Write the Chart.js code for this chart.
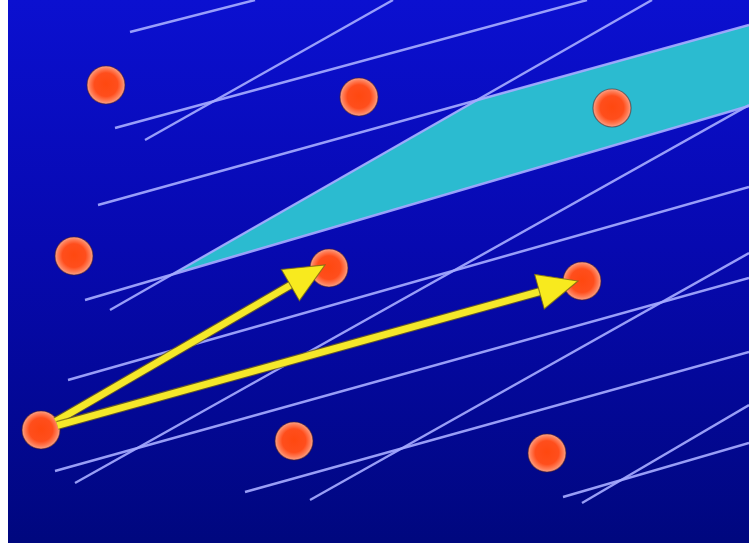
<!DOCTYPE html>
<html>
<head>
<meta charset="utf-8">
<script src="https://cdn.jsdelivr.net/npm/chart.js@4.4.1/dist/chart.umd.min.js"></script>
<style>
  html, body { margin: 0; padding: 0; background: #ffffff; }
  #wrap { width: 749px; height: 545px; position: relative; }
</style>
</head>
<body>
<div id="wrap"><canvas id="c" width="749" height="545"></canvas></div>
<script>
// ---- data (picture coordinates, y grows downward) ----
const latticeX = [106, 359, 612, 74, 329, 582, 41, 294, 547];
const latticeY = [85, 97, 108, 256, 268, 281, 430, 441, 453];

// shallow family of lines: [x1, y1, x2, y2]
const shallowLines = [
  [130, 32, 255, 0],
  [115, 128, 587, 0],
  [98, 205, 749, 25],
  [85, 300, 749, 106],
  [68, 380, 749, 187],
  [55, 471, 749, 278],
  [245, 492, 749, 352],
  [563, 497, 749, 443]
];
// steep family of lines: [x1, y1, x2, y2]
const steepLines = [
  [145, 140, 393, 0],
  [110, 310, 652, 0],
  [75, 483, 749, 105],
  [310, 500, 749, 253],
  [582, 503, 749, 405]
];

// highlighted region (cyan)
const regionX = [172, 476, 749, 749, 172];
const regionY = [274, 100, 25, 106, 274];

// arrows: from lattice point to lattice point
const arrowFromX = [41, 41];
const arrowFromY = [430, 430];
const arrowToX = [325, 578];
const arrowToY = [265, 281];

// ---- styling helpers ----
function makeDot(r) {
  const s = Math.ceil(r * 2 + 4);
  const c = document.createElement('canvas');
  c.width = s; c.height = s;
  const g = c.getContext('2d');
  const m = s / 2;
  const grad = g.createRadialGradient(m, m - 1, 0, m, m, r);
  grad.addColorStop(0, '#ff4810');
  grad.addColorStop(0.62, '#ff4e1c');
  grad.addColorStop(0.86, '#ff7e58');
  grad.addColorStop(1, '#f8a48c');
  g.beginPath();
  g.arc(m, m, r, 0, Math.PI * 2);
  g.fillStyle = grad;
  g.fill();
  g.lineWidth = 1.2;
  g.strokeStyle = 'rgba(80,30,30,0.55)';
  g.stroke();
  return c;
}
const dotImg = makeDot(19);

const lineColor = 'rgba(165,170,255,0.92)';

const datasets = [];
datasets.push({
  label: 'points',
  data: latticeX.map((x, i) => ({ x: x, y: latticeY[i] })),
  pointStyle: dotImg,
  pointRadius: 19,
  showLine: false,
  order: 5,
  clip: false
});
function addLine(seg, name) {
  datasets.push({
    label: name,
    data: [{ x: seg[0], y: seg[1] }, { x: seg[2], y: seg[3] }],
    showLine: true,
    borderColor: lineColor,
    borderWidth: 2.4,
    pointRadius: 0,
    fill: false,
    order: 20,
    clip: false
  });
}
shallowLines.forEach((s, i) => addLine(s, 'a' + i));
steepLines.forEach((s, i) => addLine(s, 'b' + i));
datasets.push({
  label: 'region',
  data: regionX.map((x, i) => ({ x: x, y: regionY[i] })),
  showLine: true,
  borderWidth: 0,
  borderColor: 'rgba(0,0,0,0)',
  backgroundColor: '#2bbbd0',
  fill: 'shape',
  pointRadius: 0,
  order: 40,
  clip: false
});

const bgPlugin = {
  id: 'bg',
  beforeDraw(chart) {
    const ctx = chart.ctx;
    const w = chart.width, h = chart.height;
    ctx.save();
    ctx.fillStyle = '#ffffff';
    ctx.fillRect(0, 0, w, h);
    const g = ctx.createLinearGradient(0, 0, 0, h);
    g.addColorStop(0, '#0b10d0');
    g.addColorStop(0.45, '#0709b0');
    g.addColorStop(1, '#00077e');
    ctx.fillStyle = g;
    ctx.fillRect(8, 0, w - 8, h - 2);
    ctx.restore();
  }
};

const arrowPlugin = {
  id: 'arrows',
  afterDatasetsDraw(chart) {
    const ctx = chart.ctx;
    const xs = chart.scales.x, ys = chart.scales.y;
    ctx.save();
    for (let i = 0; i < arrowFromX.length; i++) {
      const x0 = xs.getPixelForValue(arrowFromX[i]);
      const y0 = ys.getPixelForValue(arrowFromY[i]);
      const x1 = xs.getPixelForValue(arrowToX[i]);
      const y1 = ys.getPixelForValue(arrowToY[i]);
      const dx = x1 - x0, dy = y1 - y0;
      const len = Math.hypot(dx, dy);
      const ux = dx / len, uy = dy / len;
      const px = -uy, py = ux;
      const headLen = 40, headW = 18;
      const sx = x0 + ux * 17, sy = y0 + uy * 17;
      const bx = x1 - ux * headLen, by = y1 - uy * headLen;
      // shaft outline
      ctx.lineCap = 'butt';
      ctx.beginPath();
      ctx.moveTo(sx, sy);
      ctx.lineTo(bx + ux * 4, by + uy * 4);
      ctx.strokeStyle = 'rgba(120,105,20,0.8)';
      ctx.lineWidth = 9;
      ctx.stroke();
      ctx.strokeStyle = '#f5e82a';
      ctx.lineWidth = 6.8;
      ctx.stroke();
      // head
      ctx.beginPath();
      ctx.moveTo(x1, y1);
      ctx.lineTo(bx + px * headW, by + py * headW);
      ctx.lineTo(bx - px * headW, by - py * headW);
      ctx.closePath();
      ctx.fillStyle = '#f8ea1e';
      ctx.fill();
      ctx.lineWidth = 1.1;
      ctx.strokeStyle = 'rgba(120,105,20,0.8)';
      ctx.stroke();
    }
    ctx.restore();
  }
};

new Chart(document.getElementById('c'), {
  type: 'scatter',
  data: { datasets: datasets },
  options: {
    responsive: false,
    animation: false,
    events: [],
    layout: { padding: 0, autoPadding: false },
    plugins: { legend: { display: false }, tooltip: { enabled: false } },
    scales: {
      x: { type: 'linear', min: 0, max: 749, display: false },
      y: { type: 'linear', min: 0, max: 545, reverse: true, display: false }
    }
  },
  plugins: [bgPlugin, arrowPlugin]
});
</script>
</body>
</html>
